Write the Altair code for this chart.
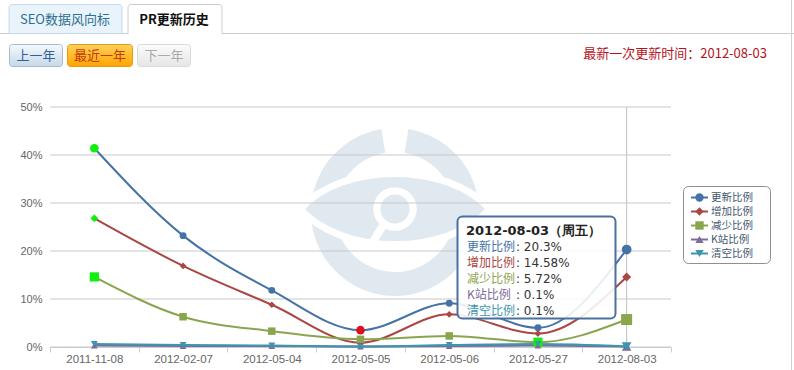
import altair as alt
import pandas as pd

# ---------------- data ----------------
dates = ["2011-11-08", "2012-02-07", "2012-05-04", "2012-05-05",
         "2012-05-06", "2012-05-27", "2012-08-03"]
series_names = ["更新比例", "增加比例", "减少比例", "K站比例", "清空比例"]
update_pct = [41.4, 23.2, 11.8, 3.5, 9.1, 4.0, 20.3]
increase_pct = [26.8, 16.9, 8.8, 0.9, 6.8, 2.8, 14.58]
decrease_pct = [14.6, 6.3, 3.3, 1.6, 2.3, 1.0, 5.72]
kzhan_pct = [0.3, 0.2, 0.2, 0.1, 0.2, 0.3, 0.1]
clear_pct = [0.6, 0.4, 0.3, 0.1, 0.4, 0.6, 0.1]
y_ticks = [0, 10, 20, 30, 40, 50]
tab_labels = ["SEO数据风向标", "PR更新历史"]
button_labels = ["上一年", "最近一年", "下一年"]
last_update_label = "最新一次更新时间：2012-08-03"
tooltip_weekday = "周五"

series_values = [update_pct, increase_pct, decrease_pct, kzhan_pct, clear_pct]

# ---------------- styles ----------------
colors = ["#4572A7", "#AA4643", "#89A54E", "#80699B", "#3D96AE"]
shapes = ["circle", "diamond", "square", "triangle-up", "triangle-down"]
LIME, RED = "#11ee11", "#dd1020"
highlights = {(0, 0): LIME, (0, 3): RED, (1, 0): LIME, (1, 3): RED,
              (2, 0): LIME, (2, 5): LIME}
base_size = {"circle": 48, "diamond": 45, "square": 56, "triangle-up": 45, "triangle-down": 48}
hl_size = {"circle": 75, "diamond": 60, "square": 85, "triangle-up": 60, "triangle-down": 60}
hover_size = {"circle": 95, "diamond": 80, "square": 121, "triangle-up": 90, "triangle-down": 95}

OX, OY = 50, 107
W, H = 621, 240
CJK = "Noto Sans CJK SC"

rows = []
for si, (name, vals) in enumerate(zip(series_names, series_values)):
    for di, (d, v) in enumerate(zip(dates, vals)):
        shp = shapes[si]
        if di == len(dates) - 1:
            size = hover_size[shp]
        elif (si, di) in highlights:
            size = hl_size[shp]
        else:
            size = base_size[shp]
        rows.append(dict(series=name, sidx=si, date=d, didx=di, value=v,
                         mcolor=highlights.get((si, di), colors[si]), msize=size))
df = pd.DataFrame(rows)
dummy = pd.DataFrame({"k": [0]})
legend_df = pd.DataFrame({"series": series_names, "sidx": list(range(len(series_names)))})

color_scale = alt.Scale(domain=series_names, range=colors)
shape_scale = alt.Scale(domain=series_names, range=shapes)


def rect(x1, y1, x2, y2, **kw):
    return alt.Chart(dummy).mark_rect(**kw).encode(
        x=alt.value(x1 - OX), x2=alt.value(x2 - OX),
        y=alt.value(y1 - OY), y2=alt.value(y2 - OY))


def hline(x1, x2, y, color, width=1):
    return alt.Chart(dummy).mark_rule(color=color, strokeWidth=width).encode(
        x=alt.value(x1 - OX), x2=alt.value(x2 - OX), y=alt.value(y - OY))


def vline(x, y1, y2, color, width=1):
    return alt.Chart(dummy).mark_rule(color=color, strokeWidth=width).encode(
        x=alt.value(x - OX), y=alt.value(y1 - OY), y2=alt.value(y2 - OY))


def text(x, y, s, **kw):
    kw.setdefault("font", CJK)
    return alt.Chart(dummy).mark_text(text=s, baseline="middle", **kw).encode(
        x=alt.value(x - OX), y=alt.value(y - OY))


def grad(c1, c2):
    return alt.LinearGradient(gradient="linear", x1=0, y1=0, x2=0, y2=1,
                              stops=[alt.GradientStop(offset=0, color=c1),
                                     alt.GradientStop(offset=1, color=c2)])


# ---------------- page chrome ----------------
chrome = [
    hline(0, 794, 33.5, "#cccccc"),
    vline(791.5, 0, 370, "#d0d0d0"),
    rect(9, 4.5, 122, 33.5, fill="#e8f3fb", stroke="#c5dbea", cornerRadiusTopLeft=3, cornerRadiusTopRight=3),
    text(65, 20, tab_labels[0], fontSize=13, color="#2d6f8e"),
    rect(128, 4.5, 222, 33.5, fill="#ffffff", stroke="#cccccc", cornerRadiusTopLeft=3, cornerRadiusTopRight=3),
    hline(128.5, 221.5, 33.5, "#ffffff", 1.5),
    text(174, 20, tab_labels[1], fontSize=13, fontWeight="bold", color="#111111"),
    rect(9.5, 44.5, 62.5, 66.5, fill=grad("#f5f9fc", "#c7d8e8"), stroke="#a4bbd1", cornerRadius=3),
    text(36, 55.5, button_labels[0], fontSize=13, color="#2f6299"),
    rect(67.5, 44.5, 132.5, 66.5, fill=grad("#ffd25a", "#ffa400"), stroke="#e59b10", cornerRadius=3),
    text(100, 55.5, button_labels[1], fontSize=13, color="#c4380c"),
    rect(137.5, 44.5, 190.5, 66.5, fill=grad("#fbfbfb", "#e6e6e6"), stroke="#dadada", cornerRadius=3),
    text(164, 55.5, button_labels[2], fontSize=13, color="#aaaaaa"),
    text(767, 54, last_update_label, fontSize=13, align="right", color="#b5121b"),
]

# ---------------- watermark ----------------
WM = "#e0e8f0"
CX, CY = 395, 212
eye_path = "M-1,0 C-0.55,-0.5 0.55,-0.5 1,0 C0.55,0.5 -0.55,0.5 -1,0 Z"
watermark = [
    alt.Chart(dummy).mark_arc(radius=84, radius2=60, theta=0.16, theta2=6.12, color=WM).encode(
        x=alt.value(CX - OX), y=alt.value(CY - OY)),
    alt.Chart(dummy).mark_point(shape=eye_path, size=36000, filled=True, fill=WM,
                                stroke="#ffffff", strokeWidth=7, opacity=1).encode(
        x=alt.value(CX - OX), y=alt.value(CY - 3 - OY)),
    alt.Chart(dummy).mark_rule(color="#ffffff", strokeWidth=8, strokeCap="round").encode(
        x=alt.value(384 - OX), y=alt.value(224 - OY), x2=alt.value(372 - OX), y2=alt.value(243 - OY)),
    alt.Chart(dummy).mark_point(shape="circle", size=1900, filled=True, color="#ffffff", opacity=1).encode(
        x=alt.value(CX - OX), y=alt.value(CY - 3 - OY)),
    alt.Chart(dummy).mark_point(shape="circle", size=850, filled=True, color=WM, opacity=1).encode(
        x=alt.value(CX - OX), y=alt.value(CY - 3 - OY)),
]

# ---------------- plot ----------------
y_scale = alt.Scale(domain=[0, 50], nice=False, zero=True)
x_scale = alt.Scale(type="band", domain=dates, paddingInner=0, paddingOuter=0)

x_axis = alt.Axis(title=None, labelAngle=0, labelColor="#666666", labelFontSize=11.5,
                  labelFont="Liberation Sans", tickBand="extent", tickColor="#C0D0E0",
                  domainColor="#C0D0E0", tickSize=5, labelPadding=1, grid=False)
y_axis = alt.Axis(values=y_ticks, title=None, labelExpr="datum.value + '%'", grid=False,
                  domain=False, ticks=False, labelColor="#666666", labelFontSize=11,
                  labelFont="Liberation Sans", labelPadding=8)

grid = alt.Chart(pd.DataFrame({"value": y_ticks})).mark_rule(color="#c8c8c8", strokeWidth=1).encode(
    y=alt.Y("value:Q", scale=y_scale, axis=y_axis))

crosshair = alt.Chart(pd.DataFrame({"date": [dates[-1]]})).mark_rule(
    color="#c0c0c0", strokeWidth=1).encode(
    x=alt.X("date:N", scale=x_scale, bandPosition=0.5, axis=x_axis))

lines = alt.Chart(df).mark_line(interpolate="monotone", strokeWidth=2).encode(
    x=alt.X("date:N", scale=x_scale, bandPosition=0.5, axis=x_axis),
    y=alt.Y("value:Q", scale=y_scale, axis=y_axis),
    color=alt.Color("series:N", scale=color_scale, legend=None),
    detail="series:N", order="didx:Q")

points = alt.Chart(df).mark_point(filled=True, opacity=1).encode(
    x=alt.X("date:N", scale=x_scale, bandPosition=0.5, axis=x_axis),
    y=alt.Y("value:Q", scale=y_scale, axis=y_axis),
    shape=alt.Shape("series:N", scale=shape_scale, legend=None),
    color=alt.Color("mcolor:N", scale=None),
    size=alt.Size("msize:Q", scale=None))

# ---------------- tooltip ----------------
tip_df = alt.Chart(df).transform_filter(alt.datum.date == dates[-1]).transform_calculate(
    ty=f"{246.5 - OY} + datum.sidx * 16", vt="': ' + datum.value + '%'")
tooltip = [
    rect(457.5, 216.5, 615.5, 318.5, fill="#ffffff", fillOpacity=0.88, stroke="#4a70a0",
         strokeWidth=2, cornerRadius=5),
    text(466, 230.5, f"{dates[-1]}（{tooltip_weekday}）", fontSize=13, fontWeight="bold",
         align="left", color="#222222", font="DejaVu Sans"),
    tip_df.mark_text(align="left", baseline="middle", fontSize=12, font=CJK).encode(
        x=alt.value(467 - OX), y=alt.Y("ty:Q", scale=None), text="series:N",
        color=alt.Color("series:N", scale=color_scale, legend=None)),
    tip_df.mark_text(align="left", baseline="middle", fontSize=12, font="DejaVu Sans",
                     color="#333333").encode(
        x=alt.value(516 - OX), y=alt.Y("ty:Q", scale=None), text="vt:N"),
]

# ---------------- legend ----------------
leg = alt.Chart(legend_df).transform_calculate(
    ly=f"{197.5 - OY} + datum.sidx * 14")
legend = [
    rect(683.5, 186.5, 770.5, 263.5, fill="#ffffff", stroke="#909090", cornerRadius=5),
    leg.mark_rule(strokeWidth=2).encode(
        x=alt.value(691 - OX), x2=alt.value(708 - OX), y=alt.Y("ly:Q", scale=None),
        color=alt.Color("series:N", scale=color_scale, legend=None)),
    leg.mark_point(filled=True, opacity=1, size=70).encode(
        x=alt.value(699.5 - OX), y=alt.Y("ly:Q", scale=None),
        shape=alt.Shape("series:N", scale=shape_scale, legend=None),
        color=alt.Color("series:N", scale=color_scale, legend=None)),
    leg.mark_text(align="left", baseline="middle", fontSize=10.5, font=CJK, color="#3E576F").encode(
        x=alt.value(711 - OX), y=alt.Y("ly:Q", scale=None), text="series:N"),
]

layers = chrome + watermark + [grid, crosshair, lines, points] + tooltip + legend
chart = alt.layer(*layers).resolve_scale(color="independent", shape="independent").properties(
    width=W, height=H,
    padding={"left": OX, "top": OY, "right": 794 - OX - W, "bottom": 370 - OY - H},
    autosize=alt.AutoSizeParams(type="none"),
    background="#ffffff",
).configure_view(stroke=None)

chart.save("out.html", embed_options={"renderer": "svg", "actions": False})
